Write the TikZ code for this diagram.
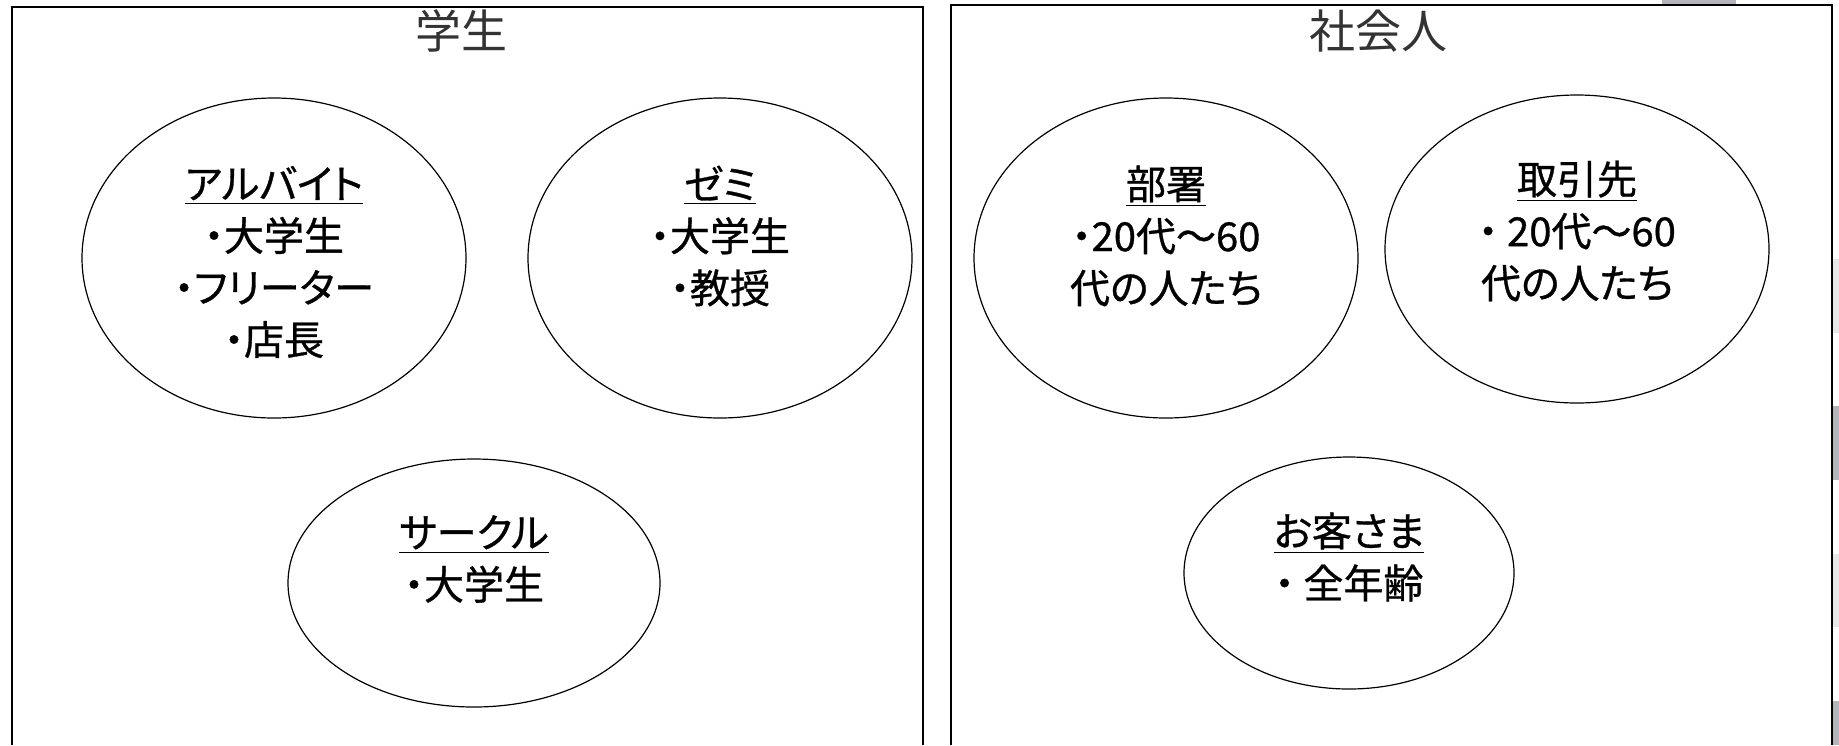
\documentclass[tikz,border=0pt]{standalone}
\usepackage{fontspec}
\setmainfont{Noto Sans CJK JP}
\newfontfamily\memofont{Noto Sans CJK JP}[RawFeature=+palt,FakeBold=0.8]
\usetikzlibrary{shapes.geometric}
\definecolor{tabgray}{RGB}{180,180,188}
\definecolor{tabpale}{RGB}{232,232,232}
\tikzset{
  grp/.style={ellipse,draw,line width=0.6pt,inner sep=0pt},
  memo/.style={align=center,font=\memofont\fontsize{20pt}{26pt}\selectfont},
  head/.style={font=\fontsize{23pt}{28pt}\selectfont,text=black!80},
}
\begin{document}
\begin{tikzpicture}[x=0.5pt,y=-0.5pt]
\useasboundingbox (0,0) rectangle (1839,745);
\fill[tabgray] (1662,0) rectangle (1736,5);
\fill[tabpale] (1833,259) rectangle (1839,333);
\fill[tabgray] (1833,406) rectangle (1839,480);
\fill[tabpale] (1833,554) rectangle (1839,627);
\fill[tabgray] (1833,701) rectangle (1839,745);

\draw[line width=1pt] (12,745) -- (12,7) -- (923,7) -- (923,745);
\draw[line width=1pt] (951,745) -- (951,5) -- (1832,5) -- (1832,745);

\node[head] (gakusei) at (461,31) {学生};
\node[head] (shakai) at (1378,31) {社会人};

\node[grp,minimum width=192pt,minimum height=160pt] (baito) at (274,258) {};
\node[grp,minimum width=192pt,minimum height=160pt] (zemi) at (720,258) {};
\node[grp,minimum width=186pt,minimum height=124pt] (circle) at (474,583) {};
\node[grp,minimum width=192pt,minimum height=160pt] (busho) at (1166,258) {};
\node[grp,minimum width=192pt,minimum height=154pt] (torihiki) at (1577,249) {};
\node[grp,minimum width=165pt,minimum height=116pt] (kyaku) at (1349,573) {};

\node[memo] (baitotxt) at (274,262) {\underline{アルバイト}\\・大学生\\・フリーター\\・店長};
\node[memo] (zemitxt) at (720,236) {\underline{ゼミ}\\・大学生\\・教授};
\node[memo] (circletxt) at (474,559) {\underline{サークル}\\・大学生};
\node[memo] (bushotxt) at (1166,236) {\underline{部署}\\・20代～60\\代の人たち};
\node[memo] (torihikitxt) at (1577,231) {\underline{取引先}\\・ 20代～60\\代の人たち};
\node[memo] (kyakutxt) at (1349,557) {\underline{お客さま}\\・ 全年齢};
\end{tikzpicture}
\end{document}
